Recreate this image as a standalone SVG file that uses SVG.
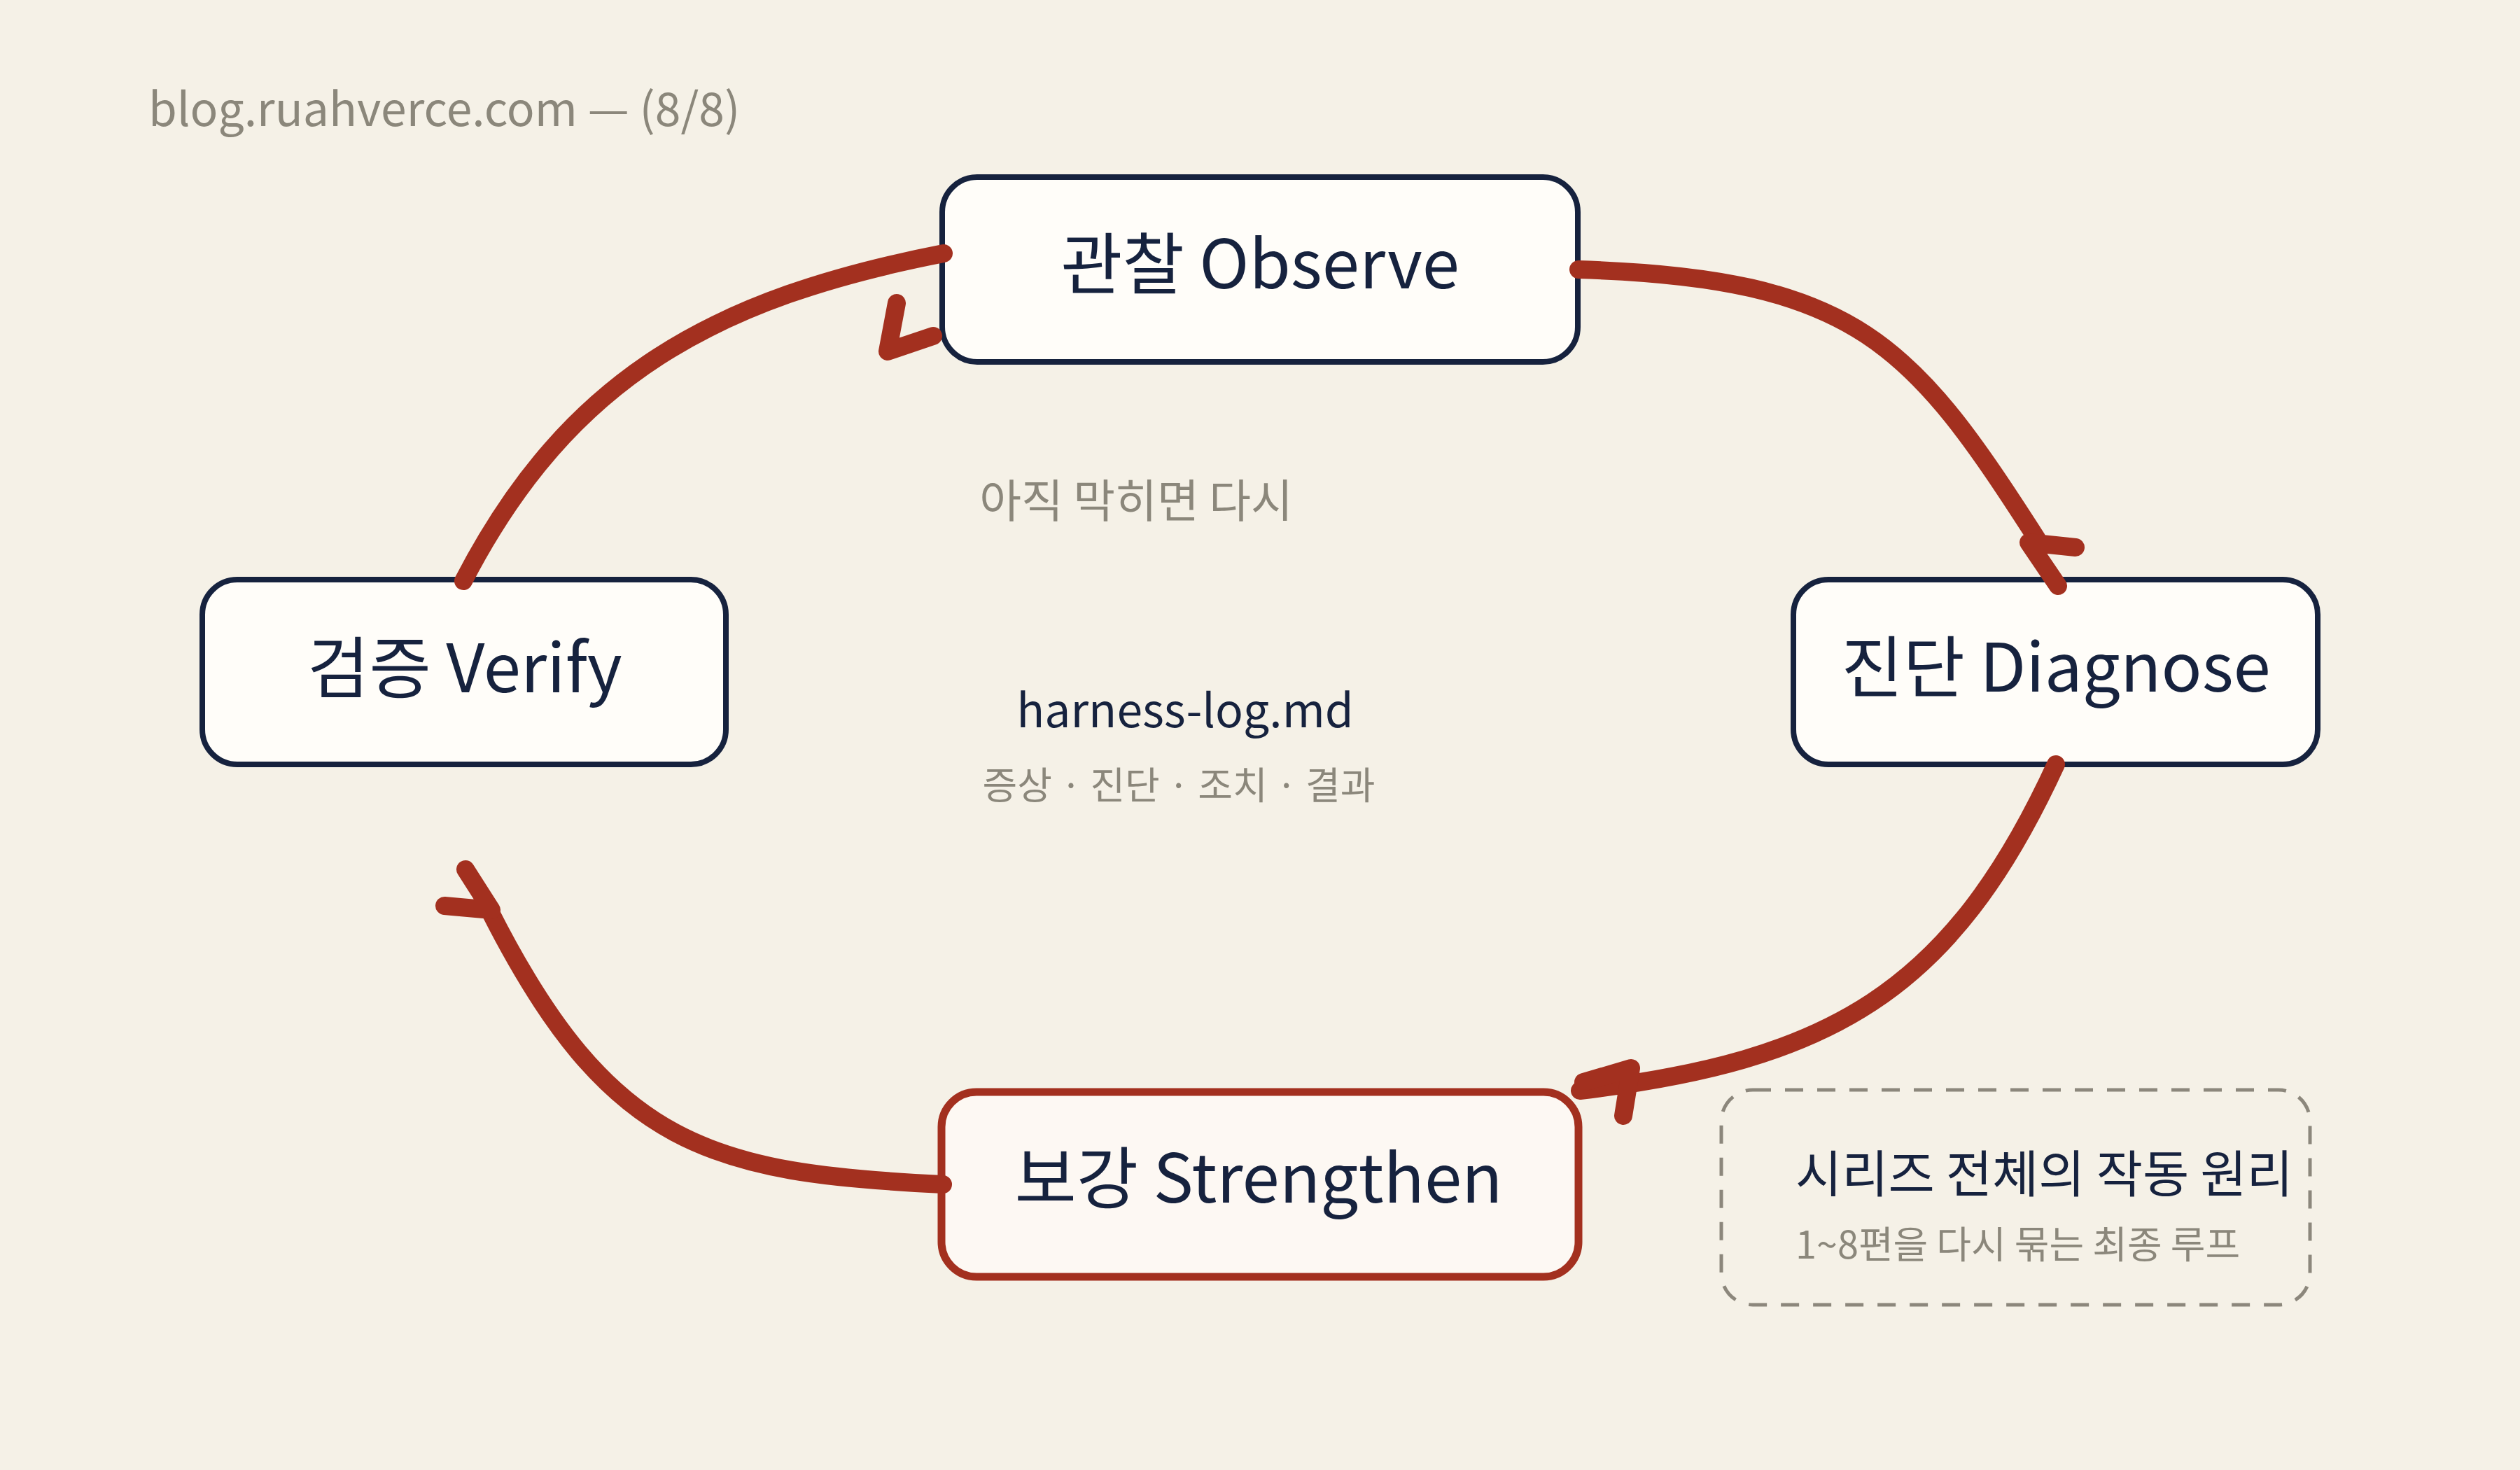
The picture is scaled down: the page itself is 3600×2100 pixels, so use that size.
<svg xmlns="http://www.w3.org/2000/svg" width="3600" height="2100" viewBox="0 0 3600 2100">
<style>
text{font-family:"Noto Sans CJK KR","Noto Sans",sans-serif;}
.node{fill:#fffdf9;stroke:#16223e;stroke-width:8;}
.hot{fill:#fdf8f3;stroke:#a3301f;stroke-width:11;}
.lbl{font-size:96px;fill:#16223e;text-anchor:middle;}
.gray{fill:#8b877b;}
.navy{fill:#16223e;}
.con{fill:none;stroke:#a3301f;stroke-width:26;stroke-linecap:round;stroke-linejoin:round;}
.note{fill:none;stroke:#8c877c;stroke-width:5;stroke-dasharray:26 20;}
</style>
<rect x="0" y="0" width="3600" height="2100" fill="#f5f1e7"/>
<text x="212" y="180" font-size="66" class="gray">blog.ruahverce.com — (8/8)</text>

<g id="observe">
<rect class="node" x="1346" y="253" width="908" height="264" rx="50"/>
<text class="lbl" x="1800" y="412">관찰 Observe</text>
</g>
<g id="diagnose">
<rect class="node" x="2562" y="828" width="749" height="264" rx="50"/>
<text class="lbl" x="2937" y="988">진단 Diagnose</text>
</g>
<g id="strengthen">
<rect class="hot" x="1345" y="1560" width="910" height="264" rx="50"/>
<text class="lbl" x="1798" y="1718">보강 Strengthen</text>
</g>
<g id="verify">
<rect class="node" x="289" y="828" width="748" height="264" rx="50"/>
<text class="lbl" x="664" y="989">검증 Verify</text>
</g>

<g id="center-note">
<text x="1623" y="739" font-size="65" class="gray" text-anchor="middle">아직 막히면 다시</text>
<text x="1693" y="1039" font-size="66" class="navy" text-anchor="middle">harness-log.md</text>
<text x="1684" y="1142" font-size="54" class="gray" text-anchor="middle">증상 · 진단 · 조치 · 결과</text>
</g>

<g id="series-note">
<rect class="note" x="2459" y="1557" width="841" height="307" rx="45"/>
<text x="2565" y="1703" font-size="72" class="navy">시리즈 전체의 작동 원리</text>
<text x="2565" y="1798" font-size="54" class="gray">1~8편을 다시 묶는 최종 루프</text>
</g>

<g id="connectors">
<path class="con" d="M2255,385 C2655,397 2732,493 2910,770"/>
<path class="con" d="M2965,782 L2898,775 L2940,837"/>
<path class="con" d="M2937,1092 C2786,1420 2613,1515 2257,1558"/>
<path class="con" d="M2262,1546 L2330,1526 L2319,1594"/>
<path class="con" d="M1347,1692 C1017,1676 871,1640 700,1302"/>
<path class="con" d="M665,1242 L702,1300 L635,1294"/>
<path class="con" d="M662,830 C814,536 1025,425 1348,362"/>
<path class="con" d="M1281,433 L1268,502 L1333,480"/>
</g>
</svg>
